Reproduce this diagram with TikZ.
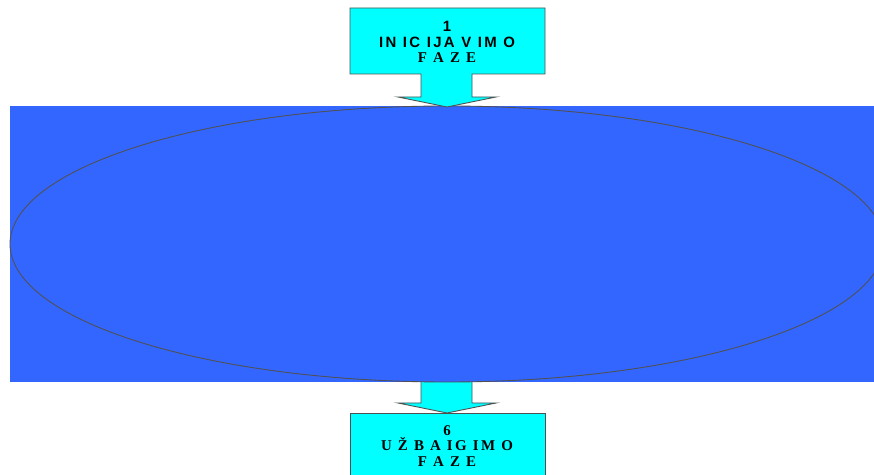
\documentclass[tikz,border=0pt]{standalone}
\usepackage{fontspec}
\usepackage{xcolor}
\usepackage{tikz}
\newfontfamily\phasesans[LetterSpace=16]{Liberation Sans}
\newfontfamily\phaseserif[LetterSpace=16]{Liberation Serif}
\definecolor{fieldblue}{RGB}{51, 102, 255}
\definecolor{phasecyan}{RGB}{0, 255, 255}
\definecolor{rimgray}{RGB}{80, 80, 80}

\begin{document}
\begin{tikzpicture}[x=0.02cm, y=-0.02cm,
    phasebox/.style={fill=phasecyan, draw=rimgray, line width=0.5pt},
    phasetext/.style={align=center, font=\fontsize{8.5}{8.8}\selectfont\bfseries}]
    \useasboundingbox (0,0) rectangle (874,475);
    \clip (0,0) rectangle (874,475);

    % Arrow out of the field
    \draw[phasebox] (421,380) -- (472,380) -- (472,403) -- (496,403) -- (447,413)
        -- (398,403) -- (421,403) -- cycle;

    % Blue field with the cycle
    \fill[fieldblue] (10,106) rectangle (874,382);
    \draw[rimgray, line width=0.5pt] (447,244) ellipse (437 and 138);

    % Start phase
    \draw[phasebox] (350,8) -- (545,8) -- (545,74) -- (472,74) -- (472,97) -- (496,97)
        -- (447,107) -- (398,97) -- (421,97) -- (421,74) -- (350,74) -- cycle;
    \node[phasetext] (start) at (447,42)
        {{\phasesans 1}\\{\phasesans IN IC IJA V IM O}\\{\phaseserif F A Z E}};

    % End phase
    \draw[phasebox] (350,413) rectangle (545,490);
    \node[phasetext] (finish) at (447,446)
        {{\phaseserif 6}\\{\phaseserif U Ž B A IG IM O}\\{\phaseserif F A Z E}};
\end{tikzpicture}
\end{document}
